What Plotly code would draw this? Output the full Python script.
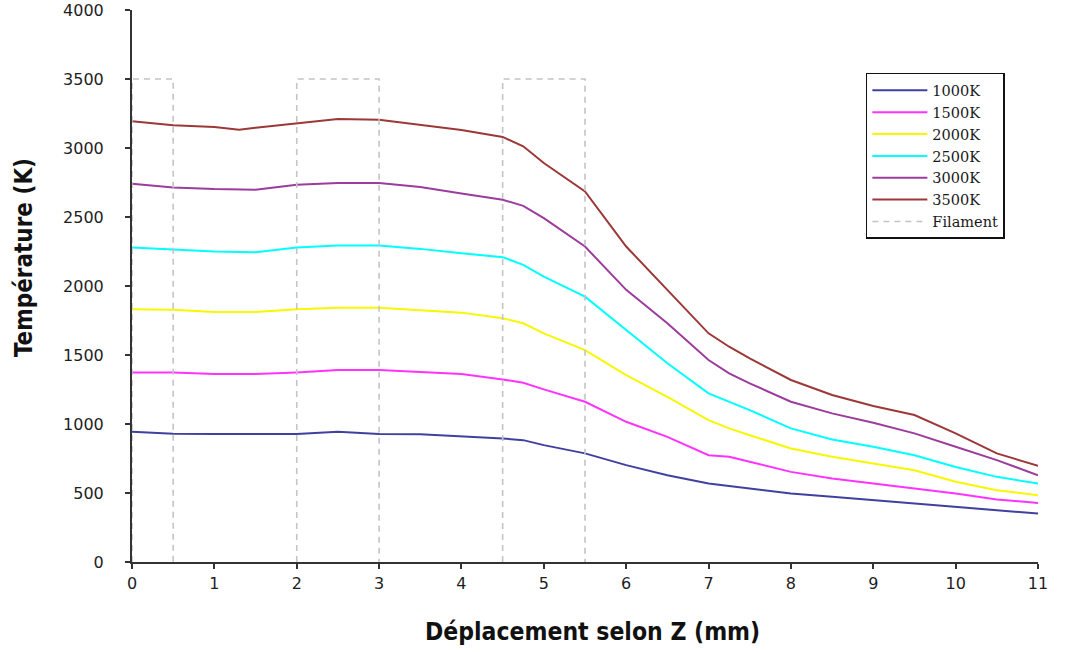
import plotly.graph_objects as go

# Déplacement selon Z (mm)
z_mm = [0, 0.5, 1, 1.3, 1.5, 2, 2.5, 3, 3.5, 4, 4.5, 4.75, 5, 5.5, 6, 6.5, 7, 7.25, 7.5,
        8, 8.5, 9, 9.5, 10, 10.5, 11]

# Température (K) for each filament temperature
t_1000 = [943, 930, 927, 927, 927, 927, 943, 927, 925, 912, 895, 883, 847, 787, 702, 629, 569,
          550, 533, 496, 472, 448, 419, 399, 375, 351]
t_1500 = [1374, 1374, 1362, 1362, 1362, 1374, 1391, 1391, 1379, 1362, 1323, 1299, 1251, 1161,
          1016, 907, 774, 762, 726, 653, 605, 569, 533, 496, 453, 428]
t_2000 = [1832, 1827, 1812, 1812, 1812, 1832, 1843, 1843, 1827, 1807, 1766, 1730, 1657, 1536,
          1355, 1197, 1028, 968, 919, 823, 762, 714, 665, 581, 520, 484]
t_2500 = [2279, 2262, 2250, 2247, 2245, 2279, 2293, 2293, 2269, 2238, 2209, 2153, 2068, 1923,
          1681, 1440, 1222, 1161, 1101, 968, 888, 835, 774, 689, 617, 569]
t_3000 = [2741, 2714, 2702, 2700, 2697, 2734, 2746, 2746, 2717, 2670, 2625, 2581, 2492, 2286,
          1972, 1730, 1464, 1367, 1295, 1161, 1077, 1009, 932, 835, 738, 629]
t_3500 = [3193, 3164, 3152, 3133, 3147, 3181, 3210, 3205, 3169, 3130, 3080, 3012, 2891, 2685,
          2286, 1972, 1657, 1560, 1476, 1319, 1210, 1130, 1065, 932, 787, 697]

series_names = ["1000K", "1500K", "2000K", "2500K", "3000K", "3500K"]
series_values = [t_1000, t_1500, t_2000, t_2500, t_3000, t_3500]
series_colors = ["#40409f", "#ff33ff", "#f7f700", "#00ffff", "#9c3c9c", "#9c3838"]

# Filament zones (mm) and their drawn height (K)
filament_start = [0, 2, 4.5]
filament_end = [0.5, 3, 5.5]
filament_height = 3500

x_title = "Déplacement selon Z (mm)"
y_title = "Température (K)"

fig = go.Figure()

for name, vals, col in zip(series_names, series_values, series_colors):
    fig.add_trace(go.Scatter(x=z_mm, y=vals, mode="lines", name=name,
                             line=dict(color=col, width=2)))

fx, fy = [], []
for a, b in zip(filament_start, filament_end):
    fx += [a, a, b, b, None]
    fy += [0, filament_height, filament_height, 0, None]
fig.add_trace(go.Scatter(x=fx, y=fy, mode="lines", name="Filament",
                         line=dict(color="#c4c4c4", width=1.6, dash="6px,5px")))

tick_font = dict(family="DejaVu Sans", size=16, color="#1e1e1e")
xtitle_font = dict(family="DejaVu Sans Condensed, DejaVu Sans", size=24.5, color="#111111")
ytitle_font = dict(family="DejaVu Sans Condensed, DejaVu Sans", size=24, color="#111111")

fig.update_layout(
    width=1073, height=652,
    margin=dict(l=132, r=35, t=10, b=90),
    paper_bgcolor="white", plot_bgcolor="white",
    showlegend=True,
    legend=dict(
        x=0.81, y=0.886, xanchor="left", yanchor="top",
        bordercolor="#111111", borderwidth=1.5, bgcolor="white",
        font=dict(family="DejaVu Serif", size=14.5, color="#1a1a1a"),
        tracegroupgap=0, itemwidth=55,
    ),
    xaxis=dict(
        range=[0, 11], tickvals=list(range(12)),
        showgrid=False, zeroline=False, automargin=False,
        showline=True, linecolor="#333333", linewidth=2,
        ticks="outside", ticklen=5, tickwidth=2, tickcolor="#333333",
        tickfont=tick_font, ticklabelstandoff=1,
    ),
    yaxis=dict(
        range=[0, 4000], tickvals=list(range(0, 4001, 500)),
        showgrid=False, zeroline=False, automargin=False,
        showline=True, linecolor="#333333", linewidth=2,
        ticks="outside", ticklen=5, tickwidth=2, tickcolor="#333333",
        tickfont=tick_font, ticklabelstandoff=18,
    ),
    annotations=[
        dict(text="<b>" + x_title + "</b>", xref="paper", yref="paper",
             x=0.5088, y=-0.1268, xanchor="center", yanchor="middle",
             showarrow=False, font=xtitle_font),
        dict(text="<b>" + y_title + "</b>", xref="paper", yref="paper",
             x=-0.1192, y=0.5507, xanchor="center", yanchor="middle",
             textangle=-90, showarrow=False, font=ytitle_font),
    ],
)

fig.write_html("out.html")
